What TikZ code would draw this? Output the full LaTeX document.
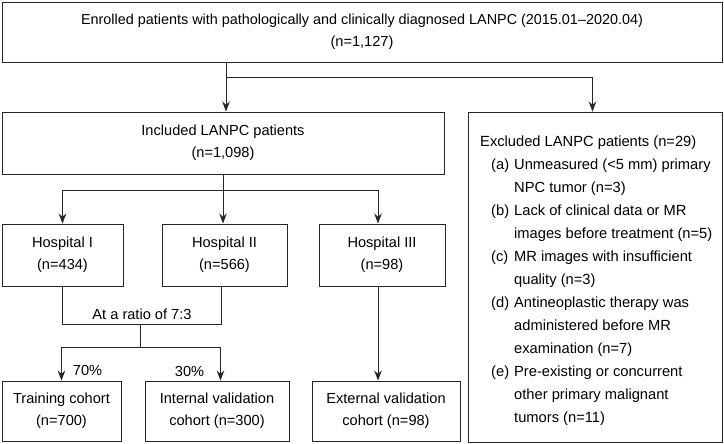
\documentclass[tikz,border=0pt]{standalone}
\usepackage{fontspec}
\setmainfont{Liberation Sans}
\usetikzlibrary{arrows.meta}
\begin{document}
\begin{tikzpicture}[x=1pt,y=-1pt,
  box/.style={draw=black!85, line width=0.9pt, align=center, inner sep=0pt,
    font=\fontsize{14.6}{22}\selectfont},
  lbl/.style={inner sep=0pt, font=\fontsize{14.6}{22}\selectfont},
  ln/.style={draw=black!85, line width=0.9pt},
  arr/.style={ln, -{Stealth[length=10pt,width=7.5pt]}}]
\useasboundingbox (0,0) rectangle (724,444);
% boxes
\node[box, minimum width=720, minimum height=60] (top) at (362,32)
  {\fontsize{14.4}{22}\selectfont Enrolled patients with pathologically and clinically diagnosed LANPC (2015.01–2020.04)\\(n=1,127)};
\node[box, minimum width=442, minimum height=62] (inc) at (223,143)
  {Included LANPC patients\\(n=1,098)};
\node[box, minimum width=254, minimum height=330] (exc) at (595,277) {};
\node[box, minimum width=121, minimum height=62] (h1) at (62.5,255) {Hospital I\\(n=434)};
\node[box, minimum width=125, minimum height=62] (h2) at (224.5,255) {Hospital II\\(n=566)};
\node[box, minimum width=126, minimum height=62] (h3) at (382,255) {Hospital III\\(n=98)};
\node[box, minimum width=119, minimum height=60] (tr) at (61.5,411) {Training cohort\\(n=700)};
\node[box, minimum width=144, minimum height=60] (iv) at (217,411) {Internal validation\\cohort (n=300)};
\node[box, minimum width=148, minimum height=60] (ev) at (386,411) {External validation\\cohort (n=98)};
% excluded text
\node[inner sep=0pt, font=\fontsize{14.7}{23}\selectfont, anchor=north west, align=left] (exct) at (480,135.3)
  {Excluded LANPC patients (n=29)\\
   \hspace*{11pt}\makebox[23pt][l]{(a)}Unmeasured (<5 mm) primary\\
   \hspace*{34pt}NPC tumor (n=3)\\
   \hspace*{11pt}\makebox[23pt][l]{(b)}Lack of clinical data or MR\\
   \hspace*{34pt}images before treatment (n=5)\\
   \hspace*{11pt}\makebox[23pt][l]{(c)}MR images with insufficient\\
   \hspace*{34pt}quality (n=3)\\
   \hspace*{11pt}\makebox[23pt][l]{(d)}Antineoplastic therapy was\\
   \hspace*{34pt}administered before MR\\
   \hspace*{34pt}examination (n=7)\\
   \hspace*{11pt}\makebox[23pt][l]{(e)}Pre-existing or concurrent\\
   \hspace*{34pt}other primary malignant\\
   \hspace*{34pt}tumors (n=11)};
% coordinates
\coordinate (t1) at (226,0);
\coordinate (b1) at (0,77);
\coordinate (b2) at (0,190);
\coordinate (j1) at (0,324);
\coordinate (jm) at (140,324);
\coordinate (b3) at (0,347);
% connectors
\draw[arr] (top.south -| t1) -- (inc.north -| t1);
\draw[arr] (t1 |- b1) -| ([xshift=-2.5pt]exc.north);
\draw[arr] (inc.south) -- (inc.south |- h2.north);
\draw[arr] (inc.south |- b2) -| (h1.north);
\draw[arr] (inc.south |- b2) -| ([xshift=-4pt]h3.north);
\draw[ln] (h1.south) -- (h1.south |- j1) -- ([xshift=-3.5pt]h2.south |- j1) -- ([xshift=-3.5pt]h2.south);
\draw[ln] (jm) -- (jm |- b3);
\draw[arr] (jm |- b3) -| (tr.north);
\draw[arr] (jm |- b3) -| ([xshift=3.5pt]iv.north);
\draw[arr] ([xshift=-4pt]h3.south) -- ([xshift=-4pt]h3.south |- ev.north);
% labels
\node[lbl] (ratio) at (142,314) {At a ratio of 7:3};
\node[lbl] (p70) at (87.5,370) {70\%};
\node[lbl] (p30) at (189.5,371) {30\%};
\end{tikzpicture}
\end{document}
